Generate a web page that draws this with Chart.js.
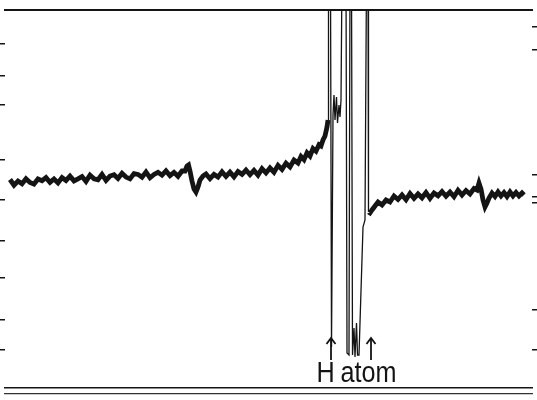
<!DOCTYPE html>
<html><head><meta charset="utf-8">
<script src="https://cdn.jsdelivr.net/npm/chart.js@4.4.1/dist/chart.umd.min.js"></script>
<style>html,body{margin:0;padding:0;background:#fff;}canvas{display:block;}</style>
</head><body>
<canvas id="c" width="537" height="400"></canvas>
<script>
// magnetic field position (arbitrary units) and derivative signal (arbitrary units)
const leftField  = [10,14,18,22,26,30,34,38,42,46,50,54,58,62,66,70,74,78,82,86,90,94,98,102,106,110,114,118,122,126,130,134,138,142,146,150,154,158,162,166,170,174,178,182,185,187,188.5,190,192,194,196,198,200,203,206,210,214,218,222,226,230,234,238,242,246,250,254,258,262,266,270,274,278,282,286,290,294,298,301,304,307,310,313,316,319,321,323,325,327,328];
const leftSignal = [15.5,9.8,13.9,11.2,16.3,12.6,10.9,16,14.3,17.4,12.7,16,12.1,17.4,14.5,18.8,14.1,16.2,18.5,13.6,19.9,16.2,15.3,20.6,14.7,19,20.3,16.5,21.7,17.9,16.1,21.4,20.6,17.8,23,17.2,20.5,22.7,19.9,24.1,19.3,22.6,18.7,24,24,29,30,24,14,6,3,8,15,19,21,16.3,20.6,17.9,23.2,18.5,22.8,18.1,23.4,20.7,25,20.3,24.6,19.9,26.3,22.1,27,22.8,29.6,25.6,31.8,28,35,32,38.6,35.4,42.2,39,46.4,43.8,50.2,49,55,59,68,75];
const spikeField  = [328,328.5,330.5,331.5,333,334,335,336.5,337.5,339,340,341,342,346,347,349,350,351.5,352.5,354,355,356.5,357.5,359,363,365,366.5,368,368.5];
const spikeSignal = [75,220,220,-152,80,100,75,98,72,90,78,95,220,220,-158,-160,220,220,-160,-133,-162,-128,-160,-160,-32,-25,220,220,-17];
const rightField  = [368.5,370,372,375,378,382,386,390,394,398,402,406,410,414,418,422,426,430,434,438,442,446,450,454,458,462,466,470,474,477,479,481,483,485,487,489,492,495,498,501,504,507,510,513,516,519,522,524];
const rightSignal = [-17,-18,-15,-11,-7,-10,-5,-7,-1,-4.5,0,-4.8,1.5,-3.3,1,-2.8,2.5,-3.3,2,-0.8,3.5,-1.2,3,-1.7,4.7,0,4.5,1,6.5,5,12,6,-5,-12,-8,-3,2,-1.5,3,-1,2.5,-1.5,3,-1,2.5,-1,2,0];
const leftTicks  = [151,119,90,35,-5,-46,-83,-125,-155];
const rightTicks = [168,145,20,-2,-8,-115,-155];
const arrowField = [331,371];
const labelParts = ["H", "atom"];
const labelField = [325.5, 368.5];

const pts = (xs, ys) => xs.map((x, i) => ({x, y: ys[i]}));
const ink = '#141414';

const annot = {
  id: 'annot',
  afterDatasetsDraw(chart) {
    const {ctx, scales: {x, y}} = chart;
    ctx.save();
    ctx.strokeStyle = ink; ctx.fillStyle = ink; ctx.lineWidth = 1.8;
    arrowField.forEach(f => {
      const px = x.getPixelForValue(f);
      const y0 = y.getPixelForValue(-165), y1 = y.getPixelForValue(-143);
      ctx.beginPath(); ctx.moveTo(px, y0); ctx.lineTo(px, y1); ctx.stroke();
      ctx.beginPath(); ctx.moveTo(px - 4.5, y1 + 6); ctx.lineTo(px, y1); ctx.lineTo(px + 4.5, y1 + 6); ctx.stroke();
    });
    ctx.font = '30px "Liberation Sans", Arial, sans-serif';
    ctx.textAlign = 'center'; ctx.textBaseline = 'alphabetic';
    const by = y.getPixelForValue(-187);
    labelParts.forEach((t, i) => {
      const px = x.getPixelForValue(labelField[i]);
      ctx.save(); ctx.translate(px, by); ctx.scale(0.84, 1);
      ctx.fillText(t, 0, 0); ctx.restore();
    });
    ctx.restore();
  }
};

new Chart(document.getElementById('c'), {
  type: 'line',
  data: {
    datasets: [
      {data: pts(leftField, leftSignal), borderColor: ink, borderWidth: 4.8, pointRadius: 0, tension: 0},
      {data: pts(spikeField, spikeSignal), borderColor: ink, borderWidth: 1.3, pointRadius: 0, tension: 0},
      {data: pts(rightField, rightSignal), borderColor: ink, borderWidth: 4.8, pointRadius: 0, tension: 0}
    ]
  },
  options: {
    responsive: false, animation: false, devicePixelRatio: 1,
    layout: {padding: {top: 10, bottom: 6, left: 0, right: 0}},
    plugins: {legend: {display: false}, tooltip: {enabled: false}},
    scales: {
      x: {type: 'linear', position: 'bottom', min: 5, max: 532, weight: 0,
          afterFit: a => { a.height = 6; },
          ticks: {display: false}, grid: {display: false, drawTicks: false},
          border: {display: true, color: ink, width: 1.5}},
      xBottom2: {type: 'linear', position: 'bottom', min: 5, max: 532, weight: 1,
          ticks: {display: false}, grid: {display: false, drawTicks: false},
          border: {display: true, color: '#333', width: 1.2}},
      xTop: {type: 'linear', position: 'top', min: 5, max: 532,
          ticks: {display: false}, grid: {display: false, drawTicks: false},
          border: {display: true, color: ink, width: 2}},
      y: {type: 'linear', position: 'left', min: -193, max: 185,
          afterBuildTicks: a => { a.ticks = leftTicks.map(v => ({value: v})); },
          ticks: {display: false},
          grid: {drawOnChartArea: false, drawTicks: true, tickLength: 5, color: ink, lineWidth: 1.5},
          border: {display: false}},
      yRight: {type: 'linear', position: 'right', min: -193, max: 185,
          afterBuildTicks: a => { a.ticks = rightTicks.map(v => ({value: v})); },
          ticks: {display: false},
          grid: {drawOnChartArea: false, drawTicks: true, tickLength: 5, color: ink, lineWidth: 1.5},
          border: {display: false}}
    }
  },
  plugins: [annot]
});
</script>
</body></html>
